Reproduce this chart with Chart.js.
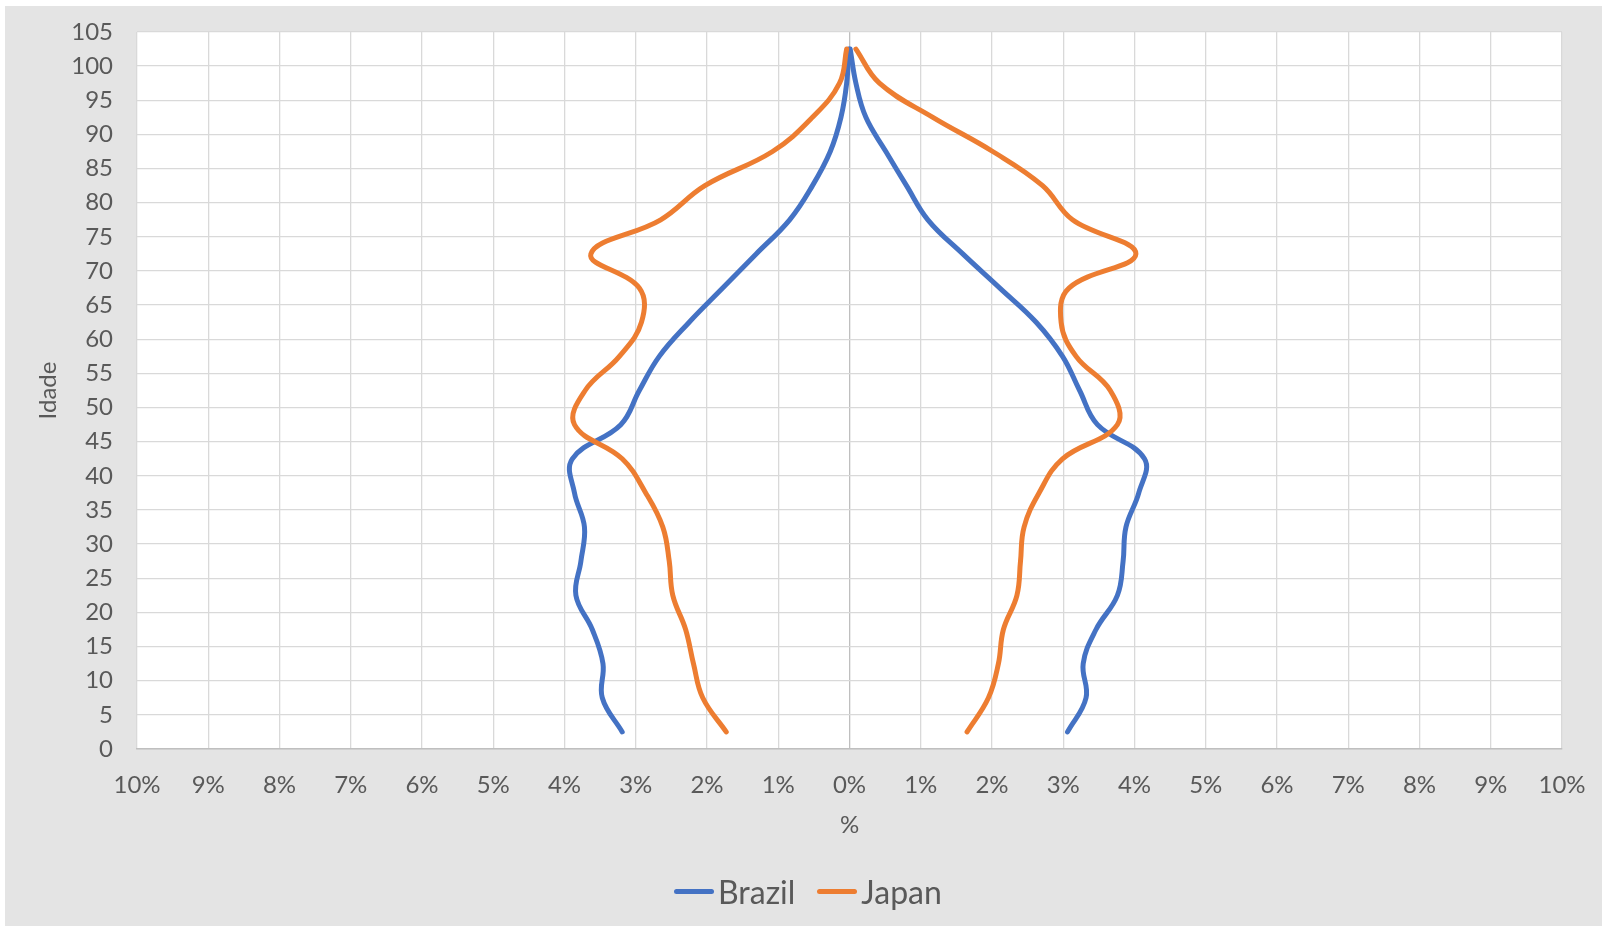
<!DOCTYPE html>
<html>
<head>
<meta charset="utf-8">
<script src="https://cdn.jsdelivr.net/npm/chart.js@4/dist/chart.umd.min.js"></script>
<style>
  html, body { margin: 0; padding: 0; background: #ffffff; }
  #wrap { position: absolute; left: 5px; top: 6px; width: 1597px; height: 920px; background: #e4e4e4; }
  #legend { position: absolute; left: 674px; top: 866px; height: 50px; display: flex; align-items: center;
            font-family: Lato, "Open Sans", sans-serif; font-size: 32px; color: #595959; }
  #legend .item { display: flex; align-items: center; margin-right: 22px; }
  #legend .swatch { width: 40px; height: 5px; border-radius: 3px; margin-right: 4px; }
</style>
</head>
<body>
<div id="wrap"><canvas id="pyramid"></canvas></div>
<div id="legend"></div>
<script>
// age groups (mid points)
const ages = [2.5, 7.5, 12.5, 17.5, 22.5, 27.5, 32.5, 37.5, 42.5, 47.5, 52.5,
              57.5, 62.5, 67.5, 72.5, 77.5, 82.5, 87.5, 92.5, 97.5, 102.5];

// % of population, men on the left (negative), women on the right
const brazilMen = [-3.19, -3.47, -3.46, -3.61, -3.84, -3.77, -3.72, -3.86, -3.89, -3.21, -2.95,
                   -2.67, -2.25, -1.78, -1.31, -0.84, -0.52, -0.27, -0.12, -0.04, -0.01];
const brazilWomen = [3.06, 3.32, 3.28, 3.46, 3.76, 3.84, 3.88, 4.06, 4.14, 3.48, 3.23,
                     2.99, 2.62, 2.11, 1.59, 1.10, 0.80, 0.51, 0.23, 0.09, 0.01];
const japanMen = [-1.73, -2.06, -2.19, -2.30, -2.48, -2.53, -2.62, -2.86, -3.19, -3.86, -3.71,
                  -3.23, -2.92, -2.95, -3.63, -2.65, -2.03, -1.08, -0.52, -0.14, -0.04];
const japanWomen = [1.65, 1.95, 2.09, 2.16, 2.35, 2.40, 2.45, 2.66, 2.99, 3.76, 3.66,
                    3.18, 2.97, 3.08, 4.02, 3.13, 2.71, 2.01, 1.17, 0.42, 0.09];

const seriesNames = ['Brazil', 'Japan'];
const seriesColors = ['#4472c4', '#ed7d31'];

function toPoints(values) {
  return values.map((v, i) => ({ x: v, y: ages[i] }));
}

function makeSet(name, color, values, order) {
  return {
    label: name,
    data: toPoints(values),
    showLine: true,
    borderColor: color,
    backgroundColor: color,
    borderWidth: 5,
    borderCapStyle: 'round',
    borderJoinStyle: 'round',
    pointRadius: 0,
    pointHoverRadius: 0,
    tension: 0.4,
    fill: false,
    order: order
  };
}

const fontFamily = 'Lato, "Open Sans", sans-serif';
const textColor = '#595959';

// white plot area on the grey chart background
const plotBackground = {
  id: 'plotBackground',
  beforeDraw(chart) {
    const { ctx, chartArea } = chart;
    ctx.save();
    ctx.fillStyle = '#ffffff';
    ctx.fillRect(chartArea.left, chartArea.top, chartArea.right - chartArea.left, chartArea.bottom - chartArea.top);
    ctx.restore();
  }
};

// html legend: one entry per country (the men/women halves share a name)
const htmlLegend = {
  id: 'htmlLegend',
  afterUpdate(chart) {
    const box = document.getElementById('legend');
    box.innerHTML = '';
    chart.data.datasets.forEach((ds, i) => {
      if (i % 2 !== 0) return;
      const item = document.createElement('div');
      item.className = 'item';
      const swatch = document.createElement('span');
      swatch.className = 'swatch';
      swatch.style.background = ds.borderColor;
      const text = document.createElement('span');
      text.textContent = ds.label;
      item.appendChild(swatch);
      item.appendChild(text);
      box.appendChild(item);
    });
  }
};

const chart = new Chart(document.getElementById('pyramid'), {
  type: 'scatter',
  data: {
    datasets: [
      makeSet(seriesNames[0], seriesColors[0], brazilMen, 1),
      makeSet(seriesNames[0], seriesColors[0], brazilWomen, 1),
      makeSet(seriesNames[1], seriesColors[1], japanMen, 0),
      makeSet(seriesNames[1], seriesColors[1], japanWomen, 0)
    ]
  },
  options: {
    responsive: true,
    maintainAspectRatio: false,
    animation: false,
    layout: { padding: { top: 26, right: 40, left: 0, bottom: 67 } },
    plugins: {
      tooltip: { enabled: false },
      legend: { display: false }
    },
    scales: {
      x: {
        type: 'linear',
        min: -10,
        max: 10,
        afterFit: (scale) => { scale.height = 110; },
        ticks: {
          stepSize: 1,
          padding: 0,
          color: textColor,
          font: { family: fontFamily, size: 24 },
          callback: (v) => Math.abs(v) + '%'
        },
        grid: {
          drawTicks: true,
          tickLength: 22,
          tickColor: 'rgba(0,0,0,0)',
          lineWidth: 1.3,
          color: (c) => (c.tick && c.tick.value === 0 ? '#bfbfbf' : '#d9d9d9')
        },
        border: { color: '#bfbfbf', width: 1.5 },
        title: {
          display: true,
          text: '%',
          color: textColor,
          font: { family: fontFamily, size: 24 },
          padding: { top: 0, bottom: 19 }
        }
      },
      y: {
        type: 'linear',
        min: 0,
        max: 105,
        afterFit: (scale) => { scale.width = 132; },
        ticks: {
          stepSize: 5,
          padding: 0,
          color: textColor,
          font: { family: fontFamily, size: 24 }
        },
        grid: {
          drawTicks: true,
          tickLength: 24,
          tickColor: 'rgba(0,0,0,0)',
          lineWidth: 1.3,
          color: '#d9d9d9'
        },
        border: { display: false },
        title: {
          display: true,
          text: 'Idade',
          color: textColor,
          font: { family: fontFamily, size: 24 },
          padding: { top: 29, bottom: 0 }
        }
      }
    }
  },
  plugins: [plotBackground, htmlLegend]
});
</script>
</body>
</html>
